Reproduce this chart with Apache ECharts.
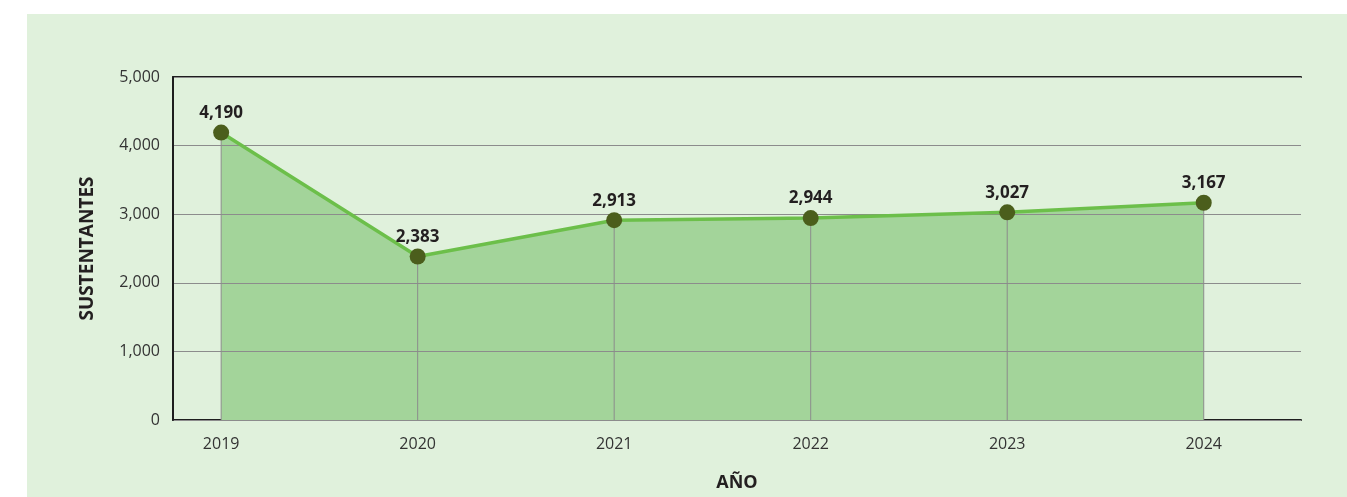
<!DOCTYPE html>
<html>
<head>
<meta charset="utf-8">
<script src="https://cdn.jsdelivr.net/npm/echarts@6/dist/echarts.min.js"></script>
<style>
html,body{margin:0;padding:0;background:#ffffff;}
#chart{width:1347px;height:497px;}
</style>
</head>
<body>
<div id="chart"></div>
<script>
const years = [2019, 2020, 2021, 2022, 2023, 2024];
const sustentantes = [4190, 2383, 2913, 2944, 3027, 3167];
const yTicks = [0, 1000, 2000, 3000, 4000, 5000];

const pts = years.map((y, i) => [y, sustentantes[i]]);
const fmt = v => v.toLocaleString('en-US');
const FONT = '"Open Sans", "Noto Sans", sans-serif';

const chart = echarts.init(document.getElementById('chart'), null, {renderer: 'canvas'});
chart.setOption({
  animation: false,
  backgroundColor: 'transparent',
  textStyle: {fontFamily: FONT},
  graphic: [{
    type: 'rect', z: -10, silent: true,
    shape: {x: 27, y: 14, width: 1320, height: 483},
    style: {fill: '#e0f1dc'}
  }],
  grid: {left: 173, right: 46, top: 77, bottom: 76, containLabel: false},
  xAxis: [{
    type: 'value',
    min: 2018.755, max: 2024.495,
    name: 'AÑO', nameLocation: 'middle', nameGap: 54,
    nameTextStyle: {fontWeight: 'bold', fontSize: 18, color: '#231f20', fontFamily: FONT},
    axisLine: {show: true, lineStyle: {color: '#1e1e1e', width: 2}},
    axisTick: {show: false},
    splitLine: {show: false},
    axisLabel: {
      customValues: years, margin: 16, fontSize: 16, color: '#333333',
      formatter: v => String(Math.round(v))
    }
  }, {
    type: 'value', position: 'top',
    min: 2018.755, max: 2024.495,
    axisLine: {show: true, onZero: false, lineStyle: {color: '#1e1e1e', width: 2}},
    axisTick: {show: false}, axisLabel: {show: false}, splitLine: {show: false}
  }],
  yAxis: {
    type: 'value', min: 0, max: 5000, interval: 1000, z: 2,
    name: 'SUSTENTANTES', nameLocation: 'middle', nameGap: 76, nameRotate: 90,
    nameTextStyle: {fontWeight: 'bold', fontSize: 19, color: '#231f20', fontFamily: FONT},
    axisLine: {show: true, lineStyle: {color: '#1e1e1e', width: 2}},
    axisTick: {show: false},
    splitLine: {show: true, lineStyle: {color: '#8c8c8c', width: 1}},
    axisLabel: {customValues: yTicks, margin: 13, fontSize: 16, color: '#333333', formatter: v => fmt(v)}
  },
  series: [{
    type: 'line', z: 1, data: pts, symbol: 'none',
    lineStyle: {width: 0},
    areaStyle: {color: '#a3d49a', opacity: 1}
  }, {
    type: 'bar', z: 3, data: pts, barWidth: 1,
    itemStyle: {color: '#8c8c8c'}
  }, {
    type: 'line', z: 4, data: pts,
    symbol: 'circle', symbolSize: 16,
    itemStyle: {color: '#4b5e1c', borderWidth: 0},
    lineStyle: {color: '#6cbf4a', width: 3.5},
    label: {
      show: true, position: 'top', distance: 3,
      fontWeight: 'bold', fontSize: 17, color: '#231f20', fontFamily: FONT,
      formatter: p => fmt(p.value[1])
    }
  }]
});
</script>
</body>
</html>
